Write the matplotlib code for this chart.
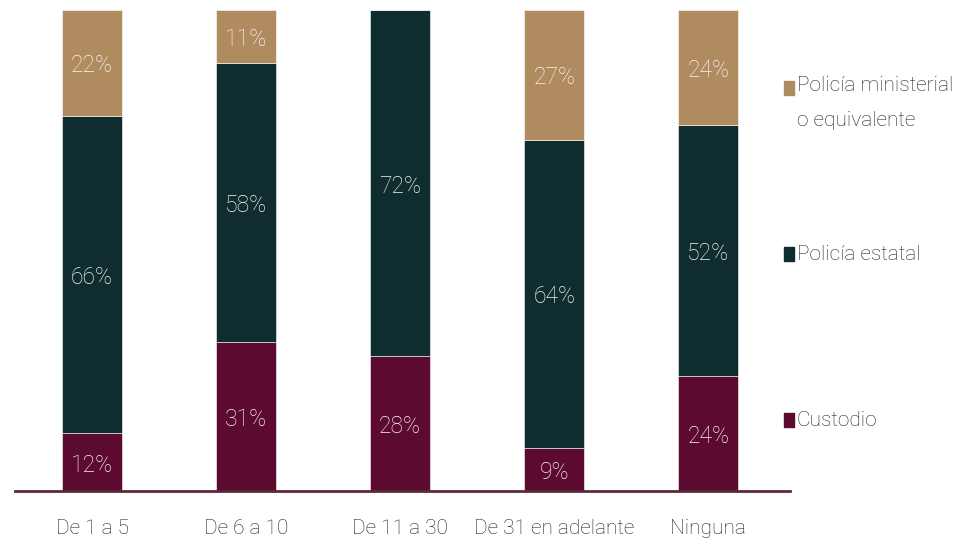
import matplotlib.pyplot as plt
from matplotlib.patches import Rectangle

categorias = ['De 1 a 5', 'De 6 a 10', 'De 11 a 30', 'De 31 en adelante', 'Ninguna']
custodio = [12, 31, 28, 9, 24]
estatal = [66, 58, 72, 64, 52]
ministerial = [22, 11, 0, 27, 24]

series = ['Custodio', 'Policía estatal', 'Policía ministerial\no equivalente']
colores = ['#5c0a30', '#0f2d2f', '#b08b5f']

plt.rcParams['font.family'] = ['Roboto', 'DejaVu Sans']

fig = plt.figure(figsize=(9.67, 5.45), dpi=100)
ax = fig.add_axes([15 / 967, 1 - 491 / 545, (790 - 15) / 967, 481 / 545])

x = list(range(len(categorias)))
bottom = [0] * len(categorias)
for vals, col in zip([custodio, estatal, ministerial], colores):
    ax.bar(x, vals, width=0.39, bottom=bottom, color=col, edgecolor='white', linewidth=0.4)
    for xi, v, b in zip(x, vals, bottom):
        if v > 0:
            ax.text(xi, b + v / 2 - 0.6, f'{v}%', ha='center', va='center',
                    color='#faf4f6', fontsize=16.5, fontweight='light')
    bottom = [b + v for b, v in zip(bottom, vals)]

ax.set_xlim(-0.5, 4.53)
ax.set_ylim(0, 100)
for s in ['top', 'right', 'left']:
    ax.spines[s].set_visible(False)
ax.spines['bottom'].set_color('#5a2a3a')
ax.spines['bottom'].set_linewidth(2)
ax.set_yticks([])
ax.set_xticks(x)
ax.set_xticklabels(categorias, fontsize=15, color='#222222', fontweight='light')
ax.tick_params(axis='x', length=0, pad=20)

# leyenda
leg_y = [420, 254, 88]
for nombre, col, yy in zip(series, colores, leg_y):
    fig.patches.append(Rectangle((784 / 967, 1 - (yy + 7) / 545), 10 / 967, 14 / 545,
                                 color=col, transform=fig.transFigure))
    fig.text(797 / 967, 1 - yy / 545, nombre, fontsize=15, color='#222222',
             fontweight='light', va='top' if '\n' in nombre else 'center',
             linespacing=2.05)
# ajuste de la etiqueta de dos líneas
fig.texts[-1].set_position((797 / 967, 1 - 76 / 545))

fig.savefig('out.png', dpi=100)
